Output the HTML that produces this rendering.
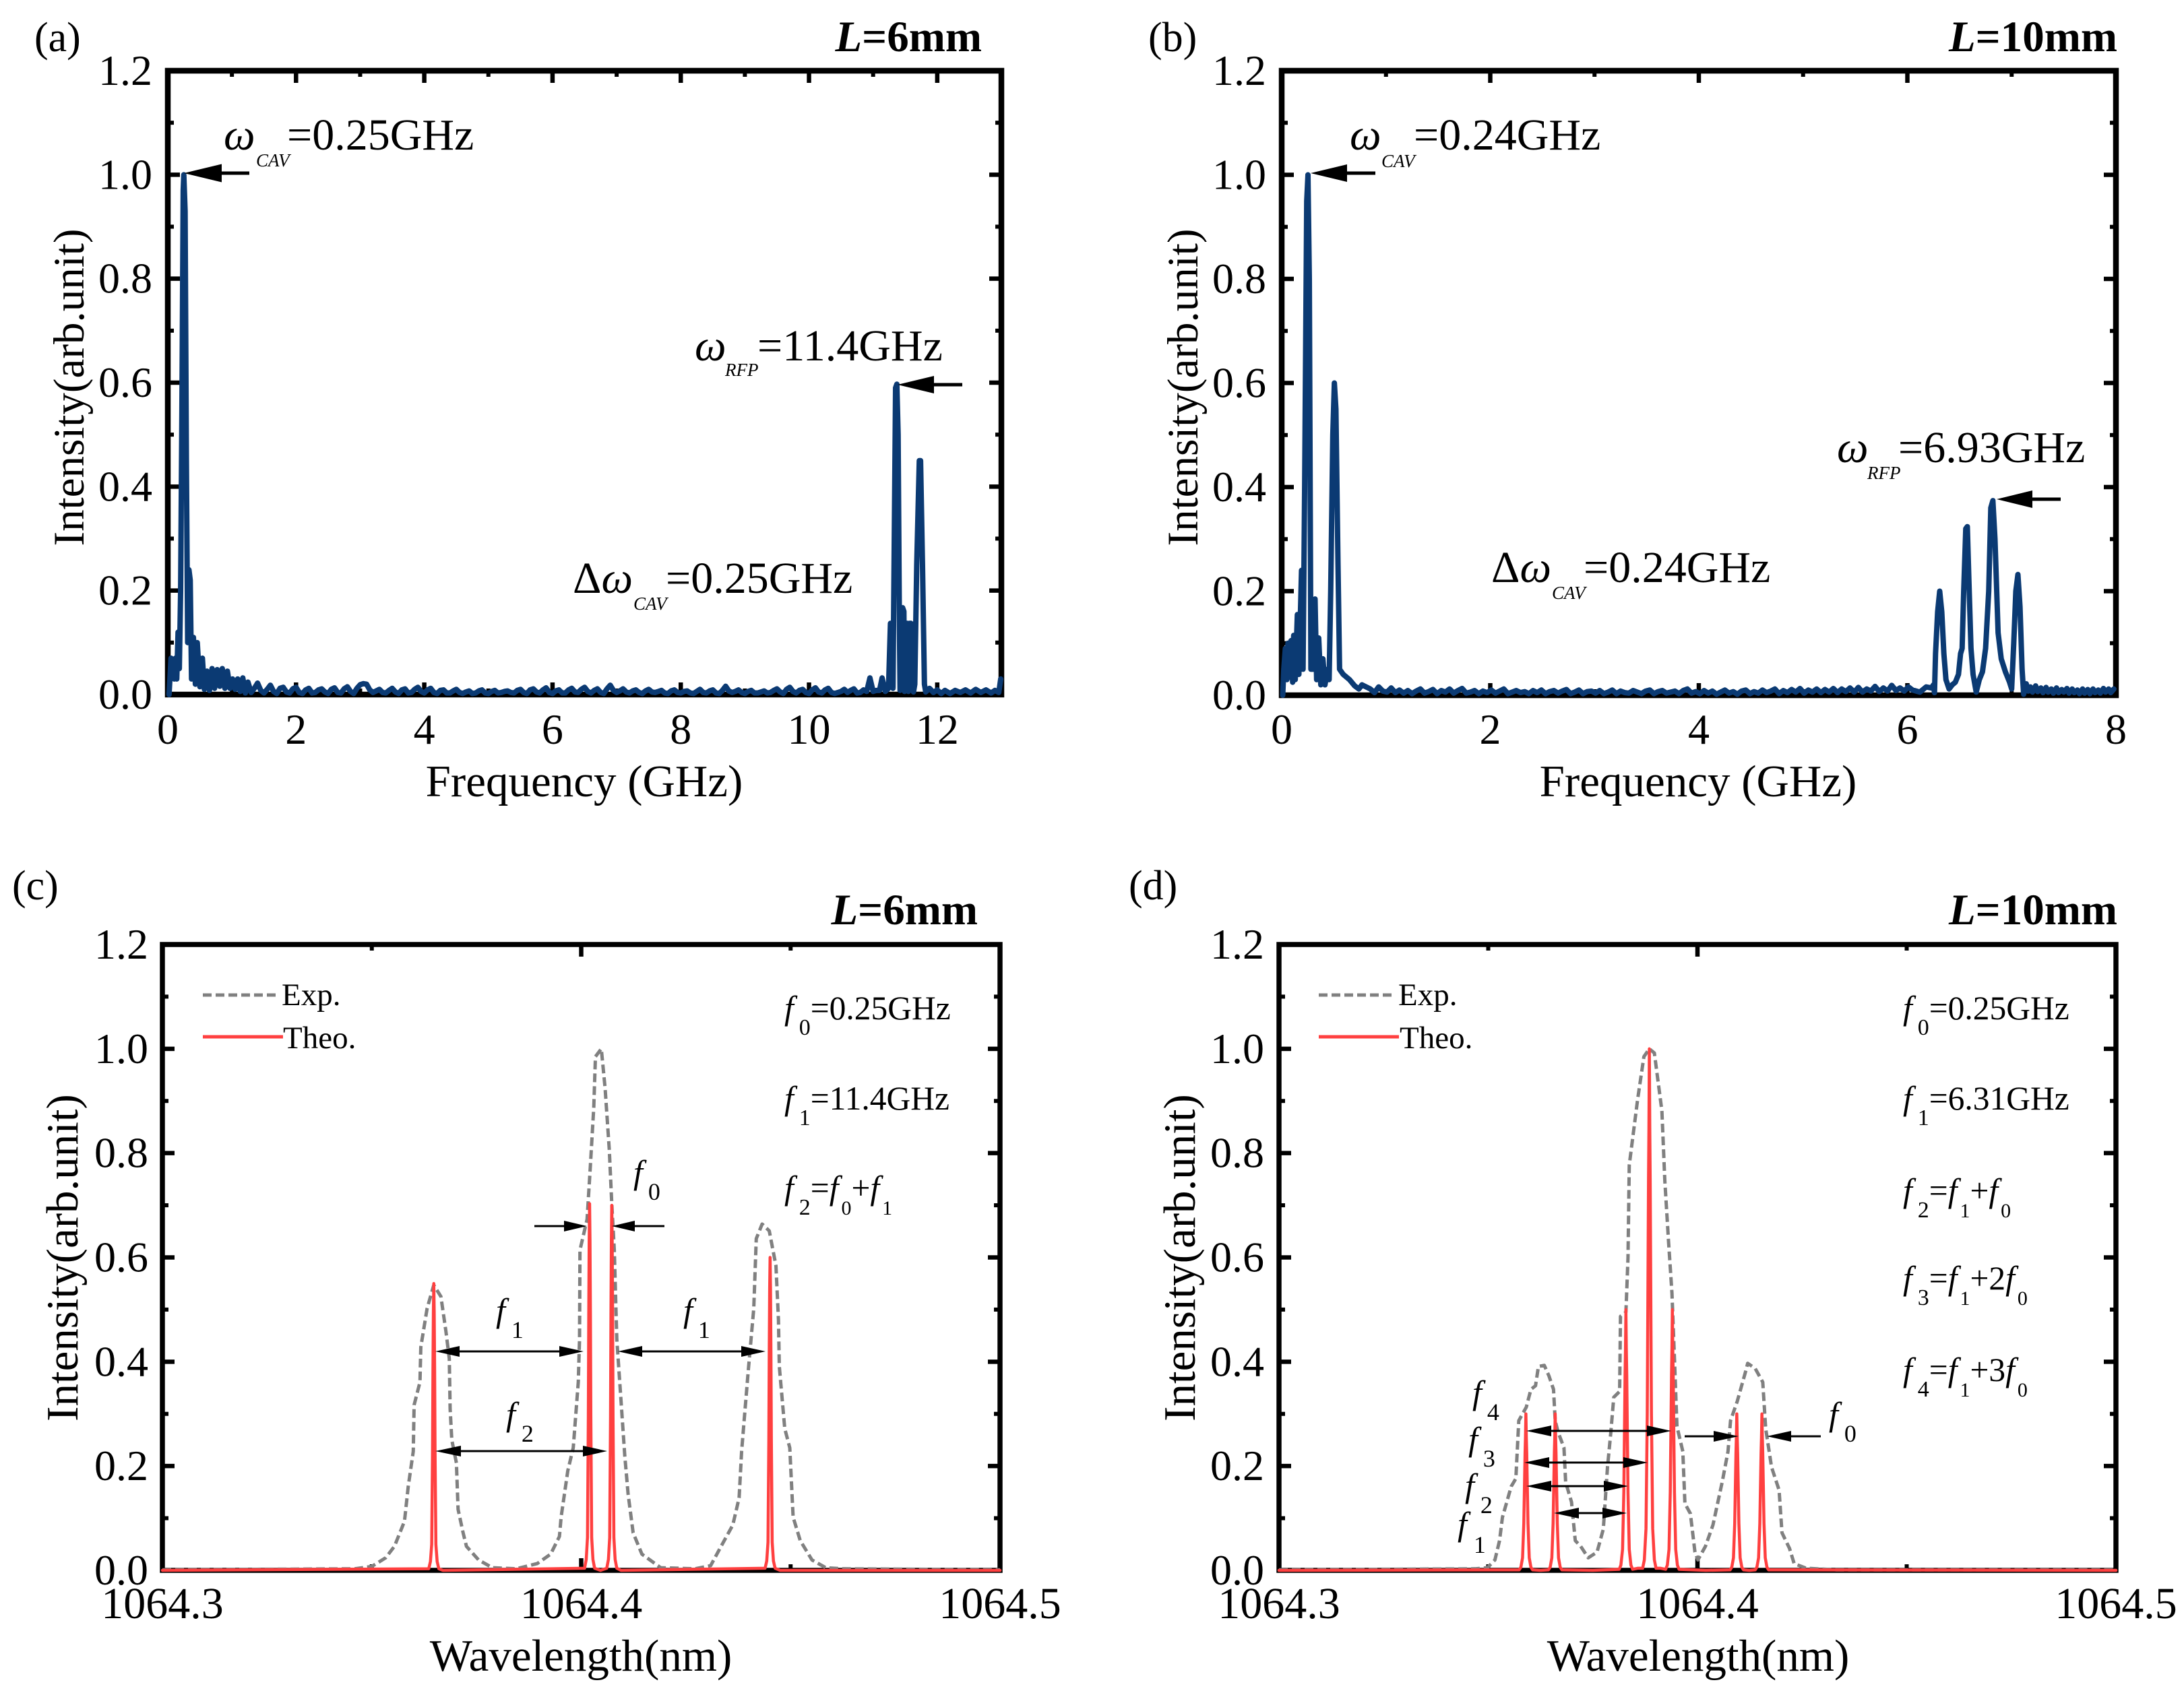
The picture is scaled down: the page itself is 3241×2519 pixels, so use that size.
<!DOCTYPE html>
<html lang="en">
<head>
<meta charset="utf-8">
<title>Frequency and wavelength spectra for L=6mm and L=10mm</title>
<style>
html,body{margin:0;padding:0;background:#fff;}
svg{display:block;font-family:"Liberation Serif","DejaVu Serif",serif;fill:#000;}
.val{font-size:66px;}
.sm{font-size:27px;font-style:italic;}
.pl{font-size:62px;}
.hd{font-size:65px;font-weight:bold;text-anchor:end;}
.hd tspan{font-style:italic;}
.lg{font-size:47px;}
.fl{font-size:49.5px;}
.fa{font-size:50px;}
i,.it{font-style:italic;}
</style>
</head>
<body>
<svg id="figure" xmlns="http://www.w3.org/2000/svg" width="3241" height="2519" viewBox="0 0 3241 2519">
<rect width="3241" height="2519" fill="#fff"/>
<g id="panel-a"></g>
<g id="panel-b"></g>
<g id="panel-c"></g>
<g id="panel-d"></g>

<g>
<text class="pl" x="51" y="76">(a)</text>
<text class="hd" x="1457" y="76"><tspan>L</tspan>=6mm</text>
<text class="val it" x="332" y="222">ω</text>
<text class="sm" x="380" y="247">CAV</text>
<text class="val" x="426" y="222">=0.25GHz</text>
<path d="M273 257L329 243.5V254.5H370V259.5H329V270.5Z"/>
<text class="val it" x="1031" y="535">ω</text>
<text class="sm" x="1076" y="558">RFP</text>
<text class="val" x="1124" y="535">=11.4GHz</text>
<path d="M1332 571L1386 558V568.5H1428V573.5H1386V584Z"/>
<text class="val" x="850" y="880">Δ<tspan class="it">ω</tspan></text>
<text class="sm" x="940" y="905">CAV</text>
<text class="val" x="988" y="880">=0.25GHz</text>
</g>

<g>
<text class="pl" x="1704" y="76">(b)</text>
<text class="hd" x="3142" y="76"><tspan>L</tspan>=10mm</text>
<text class="val it" x="2003" y="222">ω</text>
<text class="sm" x="2050" y="248">CAV</text>
<text class="val" x="2098" y="222">=0.24GHz</text>
<path d="M1945 257L1999 244V254.5H2041V259.5H1999V270Z"/>
<text class="val it" x="2726" y="686">ω</text>
<text class="sm" x="2771" y="711">RFP</text>
<text class="val" x="2817" y="686">=6.93GHz</text>
<path d="M2963 741L3016 728V738.5H3058V743.5H3016V754Z"/>
<text class="val" x="2213" y="864">Δ<tspan class="it">ω</tspan></text>
<text class="sm" x="2303" y="889">CAV</text>
<text class="val" x="2350" y="864">=0.24GHz</text>
</g>

<g>
<text class="pl" x="18" y="1335">(c)</text>
<text class="hd" x="1451" y="1372"><tspan>L</tspan>=6mm</text>
<line x1="301" y1="1477" x2="413" y2="1477" stroke="#808080" stroke-width="5" stroke-dasharray="13 6"/>
<text class="lg" x="418" y="1492">Exp.</text>
<line x1="301" y1="1539" x2="420" y2="1539" stroke="#ff4040" stroke-width="5"/>
<text class="lg" x="420" y="1556">Theo.</text>
<text class="fl" x="1164" y="1513"><tspan class="it">f</tspan><tspan dy="23" dx="8" font-size="34">0</tspan><tspan dy="-23">=0.25GHz</tspan></text>
<text class="fl" x="1164" y="1647"><tspan class="it">f</tspan><tspan dy="23" dx="8" font-size="34">1</tspan><tspan dy="-23">=11.4GHz</tspan></text>
<text class="fl" x="1164" y="1780"><tspan class="it">f</tspan><tspan dy="23" dx="8" font-size="34">2</tspan><tspan dy="-23">=</tspan><tspan class="it">f</tspan><tspan dy="23" dx="4" font-size="30">0</tspan><tspan dy="-23">+</tspan><tspan class="it">f</tspan><tspan dy="23" dx="4" font-size="30">1</tspan></text>
<g>
<path d="M871 1820L837 1812V1818.5H793V1821.5H837V1828Z"/>
<path d="M908 1820L942 1812V1818.5H986V1821.5H942V1828Z"/>
<path d="M646 2006L682 1998V2004.5H830V1998L866 2006L830 2014V2007.5H682V2014Z"/>
<path d="M917 2006L953 1998V2004.5H1100V1998L1136 2006L1100 2014V2007.5H953V2014Z"/>
<path d="M646 2154L684 2146V2152.5H865V2146L901 2154L865 2162V2155.5H684V2162Z"/>
</g>
<text class="fa" x="940" y="1757"><tspan class="it">f</tspan><tspan dy="24" dx="8" font-size="36">0</tspan></text>
<text class="fa" x="736" y="1962"><tspan class="it">f</tspan><tspan dy="24" dx="9" font-size="36">1</tspan></text>
<text class="fa" x="1014" y="1962"><tspan class="it">f</tspan><tspan dy="24" dx="8" font-size="36">1</tspan></text>
<text class="fa" x="751" y="2116"><tspan class="it">f</tspan><tspan dy="24" dx="9" font-size="36">2</tspan></text>
</g>

<g>
<text class="pl" x="1675" y="1335">(d)</text>
<text class="hd" x="3142" y="1372"><tspan>L</tspan>=10mm</text>
<line x1="1957" y1="1477" x2="2070" y2="1477" stroke="#808080" stroke-width="5" stroke-dasharray="13 6"/>
<text class="lg" x="2075" y="1492">Exp.</text>
<line x1="1957" y1="1539" x2="2076" y2="1539" stroke="#ff4040" stroke-width="5"/>
<text class="lg" x="2077" y="1556">Theo.</text>
<text class="fl" x="2824" y="1513"><tspan class="it">f</tspan><tspan dy="23" dx="8" font-size="34">0</tspan><tspan dy="-23">=0.25GHz</tspan></text>
<text class="fl" x="2824" y="1647"><tspan class="it">f</tspan><tspan dy="23" dx="8" font-size="34">1</tspan><tspan dy="-23">=6.31GHz</tspan></text>
<text class="fl" x="2824" y="1784"><tspan class="it">f</tspan><tspan dy="23" dx="8" font-size="34">2</tspan><tspan dy="-23">=</tspan><tspan class="it">f</tspan><tspan dy="23" dx="4" font-size="30">1</tspan><tspan dy="-23">+</tspan><tspan class="it">f</tspan><tspan dy="23" dx="4" font-size="30">0</tspan></text>
<text class="fl" x="2824" y="1914"><tspan class="it">f</tspan><tspan dy="23" dx="8" font-size="34">3</tspan><tspan dy="-23">=</tspan><tspan class="it">f</tspan><tspan dy="23" dx="4" font-size="30">1</tspan><tspan dy="-23">+2</tspan><tspan class="it">f</tspan><tspan dy="23" dx="4" font-size="30">0</tspan></text>
<text class="fl" x="2824" y="2050"><tspan class="it">f</tspan><tspan dy="23" dx="8" font-size="34">4</tspan><tspan dy="-23">=</tspan><tspan class="it">f</tspan><tspan dy="23" dx="4" font-size="30">1</tspan><tspan dy="-23">+3</tspan><tspan class="it">f</tspan><tspan dy="23" dx="4" font-size="30">0</tspan></text>
<g>
<path d="M2265 2124L2302 2116V2122.5H2444V2116L2480 2124L2444 2132V2125.5H2302V2132Z"/>
<path d="M2262 2171L2299 2163V2169.5H2409V2163L2445 2171L2409 2179V2172.5H2299V2179Z"/>
<path d="M2265 2206L2302 2198V2204.5H2380V2198L2416 2206L2380 2214V2207.5H2302V2214Z"/>
<path d="M2306 2246L2343 2238V2244.5H2378V2238L2414 2246L2378 2254V2247.5H2343V2254Z"/>
<path d="M2580 2132L2543 2124V2130.5H2500V2133.5H2543V2140Z"/>
<path d="M2622 2132L2658 2124V2130.5H2702V2133.5H2658V2140Z"/>
</g>
<text class="fa" x="2185" y="2084"><tspan class="it">f</tspan><tspan dy="24" dx="8" font-size="36">4</tspan></text>
<text class="fa" x="2179" y="2153"><tspan class="it">f</tspan><tspan dy="24" dx="8" font-size="36">3</tspan></text>
<text class="fa" x="2174" y="2222"><tspan class="it">f</tspan><tspan dy="24" dx="9" font-size="36">2</tspan></text>
<text class="fa" x="2163" y="2279"><tspan class="it">f</tspan><tspan dy="26" dx="10" font-size="36">1</tspan></text>
<text class="fa" x="2714" y="2116"><tspan class="it">f</tspan><tspan dy="24" dx="9" font-size="36">0</tspan></text>
</g>
</svg>

<script>
const intensityTicks = [0, 0.2, 0.4, 0.6, 0.8, 1.0, 1.2];
const intensityTickLabels = ['0.0', '0.2', '0.4', '0.6', '0.8', '1.0', '1.2'];
const freqTicksA = [0, 2, 4, 6, 8, 10, 12];
const freqTicksB = [0, 2, 4, 6, 8];
const wlTicks = [1064.3, 1064.4, 1064.5];
const wlTickLabels = ['1064.3', '1064.4', '1064.5'];

const freqA = [0.02,0.05,0.08,0.10,0.12,0.14,0.16,0.18,0.20,0.22,0.24,0.25,0.27,0.29,0.31,0.33,0.35,0.37,0.40,0.43,0.46,0.50,0.54,0.57,0.61,0.65,0.69,0.73,0.77,0.81,0.85,0.89,0.93,0.97,1.01,1.05,1.09,1.13,1.17,1.21,1.25,
1.30,1.35,1.40,1.45,1.50,1.55,1.60,1.65,1.70,1.75,
1.80,1.85,1.90,1.95,2.00,2.05,2.10,2.15,2.20,2.25,
2.30,2.35,2.40,2.45,2.50,2.55,2.60,2.65,2.70,2.75,
2.80,2.85,2.90,2.95,3.00,3.05,3.10,3.15,3.20,3.25,
3.30,3.35,3.40,3.45,3.50,3.55,3.60,3.65,3.70,3.75,
3.80,3.85,3.90,3.95,4.00,4.05,4.10,4.15,4.20,4.25,
4.30,4.35,4.40,4.45,4.50,4.55,4.60,4.65,4.70,4.75,
4.80,4.85,4.90,4.95,5.00,5.05,5.10,5.15,5.20,5.25,
5.30,5.35,5.40,5.45,5.50,5.55,5.60,5.65,5.70,5.75,
5.80,5.85,5.90,5.95,6.00,6.05,6.10,6.15,6.20,6.25,
6.30,6.35,6.40,6.45,6.50,6.55,6.60,6.65,6.70,6.75,
6.80,6.85,6.90,6.95,7.00,7.05,7.10,7.15,7.20,7.25,
7.30,7.35,7.40,7.45,7.50,7.55,7.60,7.65,7.70,7.75,
7.80,7.85,7.90,7.95,8.00,8.05,8.10,8.15,8.20,8.25,
8.30,8.35,8.40,8.45,8.50,8.55,8.60,8.65,8.70,8.75,
8.80,8.85,8.90,8.95,9.00,9.05,9.10,9.15,9.20,9.25,
9.30,9.35,9.40,9.45,9.50,9.55,9.60,9.65,9.70,9.75,
9.80,9.85,9.90,9.95,10.00,10.05,10.10,10.15,10.20,10.25,
10.30,10.35,10.40,10.45,10.50,10.55,10.60,10.65,10.70,10.75,
10.80,10.85,10.90,
10.95,11.0,11.05,11.1,11.14,11.19,11.24,11.27,11.29,11.31,11.33,11.35,11.37,11.39,11.41,11.42,11.44,11.46,11.48,11.49,11.51,11.53,11.55,11.57,11.59,11.61,11.63,11.65,11.68,11.72,11.74,11.77,11.80,11.82,11.88,11.94,12.0,12.06,12.12,12.2,12.28,12.36,12.44,12.52,12.6,12.68,12.76,12.84,12.9,12.96,12.99];
const intensityA = [0.00,0.07,0.06,0.03,0.07,0.03,0.12,0.05,0.2,0.55,0.97,1.0,0.93,0.45,0.10,0.24,0.22,0.03,0.11,0.02,0.10,0.015,0.07,0.01,0.045,0.008,0.05,0.012,0.048,0.016,0.05,0.012,0.045,0.012,0.03,0.01,0.03,0.006,0.032,0.003,0.024,
.004,.012,.022,.008,.003,.010,.018,.006,.002,.012,
.014,.005,.003,.011,.014,.004,.002,.009,.012,.003,
.004,.009,.011,.005,.002,.010,.013,.004,.003,.011,
.015,.006,.002,.012,.019,.021,.02,.009,.004,.007,
.010,.004,.003,.008,.012,.005,.002,.009,.011,.003,
.004,.010,.014,.006,.003,.009,.012,.004,.002,.008,
.009,.003,.003,.007,.010,.004,.002,.005,.007,.002,
.003,.007,.009,.003,.002,.006,.008,.003,.004,.006,
.007,.004,.003,.008,.010,.004,.002,.009,.011,.005,
.003,.009,.013,.004,.002,.007,.009,.003,.003,.009,
.012,.005,.004,.010,.014,.006,.003,.008,.011,.004,
.002,.011,.018,.008,.004,.007,.011,.005,.003,.007,
.009,.004,.002,.007,.010,.005,.004,.006,.008,.003,
.002,.007,.009,.004,.003,.006,.007,.003,.002,.006,
.010,.004,.003,.007,.009,.003,.002,.008,.016,.007,
.004,.006,.009,.004,.002,.006,.008,.003,.003,.005,
.007,.003,.004,.008,.011,.005,.002,.010,.014,.006,
.003,.008,.010,.004,.002,.009,.013,.005,.003,.009,
.012,.004,.002,.004,.006,.010,.004,.008,.011,.003,
.004,.009,.006,
0.032,0.006,0.008,0.008,0.032,0.006,0.012,0.137,0.13,0.012,0.3,0.59,0.597,0.5,0.13,0.008,0.01,0.167,0.16,0.006,0.137,0.137,0.006,0.137,0.137,0.11,0.005,0.02,0.25,0.45,0.45,0.25,0.02,0.005,0.012,0.004,0.009,0.002,0.008,0.002,0.008,0.004,0.009,0.003,0.01,0.004,0.009,0.003,0.008,0.004,0.03];

const freqB = [0.01,0.02,0.035,0.05,0.06,0.075,0.09,0.105,0.115,0.13,0.15,0.165,0.19,0.205,0.22,0.24,0.252,0.265,0.275,0.28,0.30,0.32,0.335,0.355,0.375,0.395,0.415,0.44,0.455,0.47,0.49,0.505,0.52,0.54,0.555,0.59,0.65,0.7,0.74,0.77,
0.85,0.89,0.93,0.97,1.01,1.05,1.09,1.13,1.17,1.21,
1.25,1.29,1.33,1.37,1.41,1.45,1.49,1.53,1.57,1.61,
1.65,1.69,1.73,1.77,1.81,1.85,1.89,1.93,1.97,2.01,
2.05,2.09,2.13,2.17,2.21,2.25,2.29,2.33,2.37,2.41,
2.45,2.49,2.53,2.57,2.61,2.65,2.69,2.73,2.77,2.81,
2.85,2.89,2.93,2.97,3.01,3.05,3.09,3.13,3.17,3.21,
3.25,3.29,3.33,3.37,3.41,3.45,3.49,3.53,3.57,3.61,
3.65,3.69,3.73,3.77,3.81,3.85,3.89,3.93,3.97,4.01,
4.05,4.09,4.13,4.17,4.21,4.25,4.29,4.33,4.37,4.41,
4.45,4.49,4.53,4.57,4.61,4.65,4.69,4.73,4.77,4.81,
4.85,4.89,4.93,4.97,5.01,5.05,5.09,5.13,5.17,5.21,
5.25,5.29,5.33,5.37,5.41,5.45,5.49,5.53,5.57,5.61,
5.65,5.69,5.73,5.77,5.81,5.85,5.89,5.93,5.97,6.01,
6.05,
6.12,6.18,6.23,6.25,6.26,6.27,6.29,6.31,6.33,6.35,6.37,6.40,6.43,6.46,6.49,6.51,6.525,6.54,6.56,6.575,6.59,6.61,6.63,6.66,6.69,6.72,6.75,6.78,6.80,6.82,6.84,6.87,6.90,6.94,6.98,7.00,7.02,7.04,7.06,7.08,7.10,7.115,7.14,7.16,7.18,7.20,7.23,7.25,7.28,7.30,7.33,7.35,7.38,7.40,7.43,7.45,7.48,7.50,7.53,7.55,7.58,7.60,7.63,7.65,7.68,7.70,7.73,7.75,7.78,7.80,7.83,7.85,7.88,7.90,7.93,7.95,7.98];
const intensityB = [0.0,0.05,0.09,0.03,0.10,0.035,0.105,0.025,0.115,0.03,0.155,0.04,0.24,0.05,0.4,0.95,1.0,0.8,0.3,0.05,0.05,0.185,0.03,0.11,0.02,0.07,0.02,0.05,0.03,0.2,0.5,0.6,0.55,0.25,0.05,0.04,0.03,0.018,0.012,0.02,
.012,.005,.016,.008,.006,.014,.005,.010,.004,.009,
.003,.008,.012,.004,.007,.011,.003,.009,.006,.012,
.004,.009,.013,.004,.006,.009,.003,.008,.005,.010,
.004,.008,.012,.003,.006,.009,.005,.007,.003,.009,
.005,.010,.003,.007,.009,.004,.008,.011,.003,.006,
.010,.003,.007,.008,.004,.009,.003,.006,.010,.003,
.008,.005,.004,.009,.006,.003,.008,.010,.003,.007,
.009,.004,.006,.008,.003,.009,.012,.004,.007,.003,
.009,.004,.008,.002,.006,.010,.004,.007,.002,.008,
.010,.003,.007,.004,.010,.005,.008,.012,.003,.009,
.005,.011,.006,.013,.004,.010,.006,.012,.005,.011,
.006,.013,.005,.012,.007,.014,.006,.015,.006,.012,
.008,.017,.007,.014,.008,.019,.009,.014,.008,.016,
.010,
0.006,0.016,0.014,0.02,0.005,0.08,0.16,0.2,0.16,0.08,0.03,0.012,0.02,0.025,0.04,0.08,0.09,0.2,0.32,0.324,0.22,0.09,0.04,0.006,0.03,0.045,0.09,0.2,0.36,0.374,0.3,0.12,0.07,0.045,0.025,0.012,0.1,0.2,0.232,0.17,0.05,0.002,0.022,0.008,0.016,0.006,0.018,0.007,0.014,0.005,0.015,0.006,0.012,0.004,0.014,0.005,0.011,0.006,0.013,0.004,0.012,0.005,0.01,0.003,0.012,0.004,0.011,0.003,0.012,0.005,0.01,0.004,0.013,0.006,0.012,0.005,0.012];

const expWlC = [1064.3000,1064.3459,1064.3500,1064.3533,1064.3554,1064.3578,1064.3587,1064.3599,1064.3601,1064.3615,1064.3617,1064.3632,1064.3648,1064.3665,1064.3677,1064.3685,1064.3687,1064.3691,1064.3702,1064.3706,1064.3718,1064.3726,1064.3755,1064.3788,1064.3845,1064.3895,1064.3927,1064.3948,1064.3952,1064.3968,1064.3981,1064.3993,1064.3996,1064.3997,1064.4014,1064.4022,1064.4030,1064.4034,1064.4048,1064.4057,1064.4067,1064.4073,1064.4079,1064.4085,1064.4092,1064.4104,1064.4112,1064.4124,1064.4145,1064.4190,1064.4272,1064.4309,1064.4334,1064.4362,1064.4377,1064.4383,1064.4389,1064.4399,1064.4412,1064.4418,1064.4432,1064.4449,1064.4465,1064.4471,1064.4473,1064.4486,1064.4498,1064.4506,1064.4523,1064.4551,1064.4584,1064.4623,1064.5000];
const expIntC = [0.001,0.003,0.0075,0.024,0.046,0.094,0.161,0.228,0.317,0.361,0.428,0.502,0.547,0.525,0.458,0.406,0.31,0.25,0.206,0.117,0.072,0.046,0.02,0.005,0.003,0.013,0.031,0.065,0.102,0.191,0.235,0.361,0.443,0.614,0.673,0.777,0.888,0.985,1.0,0.925,0.807,0.703,0.614,0.443,0.361,0.22,0.146,0.072,0.031,0.005,0.003,0.009,0.046,0.087,0.139,0.228,0.287,0.384,0.502,0.636,0.664,0.651,0.584,0.48,0.391,0.272,0.235,0.102,0.057,0.02,0.005,0.003,0.001];

const theoWlC = [1064.3000,1064.3636,1064.3640,1064.3643,1064.3645,1064.3646,1064.3647,1064.3648,1064.3649,1064.3650,1064.3651,1064.3653,1064.3656,1064.3660,1064.3670,1064.4008,1064.4012,1064.4015,1064.4017,1064.4018,1064.4019,1064.4020,1064.4021,1064.4022,1064.4023,1064.4025,1064.4028,1064.4032,1064.4046,1064.4061,1064.4065,1064.4068,1064.4070,1064.4071,1064.4072,1064.4073,1064.4074,1064.4075,1064.4076,1064.4078,1064.4081,1064.4085,1064.4095,1064.4439,1064.4443,1064.4446,1064.4448,1064.4449,1064.4450,1064.4451,1064.4452,1064.4453,1064.4454,1064.4456,1064.4459,1064.4463,1064.4475,1064.5000];
const theoIntC = [0,0.003,0.017,0.05,0.23,0.385,0.495,0.55,0.495,0.385,0.23,0.05,0.017,0.003,0,0.004,0.021,0.063,0.295,0.49,0.63,0.703,0.63,0.49,0.295,0.063,0.021,0.004,0,0.004,0.021,0.063,0.294,0.49,0.63,0.70,0.63,0.49,0.294,0.063,0.021,0.004,0,0.004,0.018,0.054,0.252,0.42,0.54,0.60,0.54,0.42,0.252,0.054,0.018,0.004,0,0];

const expWlD = [1064.3000,1064.3469,1064.3498,1064.3516,1064.3527,1064.3534,1064.3555,1064.3566,1064.3573,1064.3591,1064.3602,1064.3613,1064.3620,1064.3634,1064.3645,1064.3656,1064.3660,1064.3667,1064.3681,1064.3685,1064.3699,1064.3708,1064.3721,1064.3739,1064.3760,1064.3775,1064.3785,1064.3793,1064.3800,1064.3814,1064.3816,1064.3829,1064.3834,1064.3837,1064.3857,1064.3872,1064.3885,1064.3897,1064.3915,1064.3922,1064.3931,1064.3939,1064.3944,1064.3951,1064.3965,1064.3970,1064.3983,1064.3994,1064.4001,1064.4019,1064.4037,1064.4059,1064.4073,1064.4079,1064.4095,1064.4116,1064.4120,1064.4138,1064.4156,1064.4163,1064.4177,1064.4195,1064.4202,1064.4220,1064.4231,1064.4260,1064.4332,1064.4452,1064.5000];
const expIntD = [0.001,0.003,0.005,0.02,0.057,0.102,0.161,0.176,0.287,0.313,0.347,0.354,0.391,0.393,0.373,0.347,0.287,0.265,0.235,0.169,0.131,0.057,0.046,0.024,0.035,0.079,0.198,0.265,0.332,0.343,0.487,0.495,0.599,0.777,0.903,0.985,1.0,0.992,0.881,0.747,0.629,0.532,0.428,0.276,0.228,0.128,0.109,0.035,0.02,0.046,0.087,0.169,0.228,0.287,0.324,0.384,0.397,0.387,0.361,0.272,0.198,0.154,0.072,0.042,0.013,0.004,0.001,0.001,0.001];

const theoWlD = [1064.3000,1064.3574,1064.3578,1064.3582,1064.3585,1064.3587,1064.3588,1064.3589,1064.3590,1064.3591,1064.3592,1064.3593,1064.3595,1064.3598,1064.3602,1064.3606,1064.3625,1064.3644,1064.3648,1064.3652,1064.3655,1064.3657,1064.3658,1064.3659,1064.3660,1064.3661,1064.3662,1064.3663,1064.3665,1064.3668,1064.3672,1064.3676,1064.3750,1064.3813,1064.3817,1064.3821,1064.3824,1064.3826,1064.3827,1064.3828,1064.3829,1064.3830,1064.3831,1064.3832,1064.3834,1064.3837,1064.3841,1064.3845,1064.3857,1064.3869,1064.3873,1064.3877,1064.3880,1064.3882,1064.3883,1064.3884,1064.3885,1064.3886,1064.3887,1064.3888,1064.3890,1064.3893,1064.3897,1064.3901,1064.3912,1064.3924,1064.3928,1064.3932,1064.3935,1064.3937,1064.3938,1064.3939,1064.3940,1064.3941,1064.3942,1064.3943,1064.3945,1064.3948,1064.3952,1064.3956,1064.4020,1064.4078,1064.4082,1064.4086,1064.4089,1064.4091,1064.4092,1064.4093,1064.4094,1064.4095,1064.4096,1064.4097,1064.4099,1064.4102,1064.4106,1064.4110,1064.4124,1064.4138,1064.4142,1064.4146,1064.4149,1064.4151,1064.4152,1064.4153,1064.4154,1064.4155,1064.4156,1064.4157,1064.4159,1064.4162,1064.4166,1064.4170,1064.5000];
const theoIntD = [0,
0.001,0.006,0.024,0.09,0.18,0.225,0.255,0.30,0.255,0.225,0.18,0.09,0.024,0.006,0.001,0,
0.001,0.006,0.024,0.09,0.18,0.225,0.255,0.30,0.255,0.225,0.18,0.09,0.024,0.006,0.001,0,
0.002,0.01,0.04,0.15,0.3,0.375,0.425,0.50,0.425,0.375,0.3,0.15,0.04,0.01,0.002,0.004,
0.004,0.02,0.08,0.3,0.6,0.75,0.85,1.0,0.85,0.75,0.6,0.3,0.08,0.02,0.004,0.004,
0.002,0.01,0.04,0.15,0.3,0.375,0.425,0.50,0.425,0.375,0.3,0.15,0.04,0.01,0.002,0,
0.001,0.006,0.024,0.09,0.18,0.225,0.255,0.30,0.255,0.225,0.18,0.09,0.024,0.006,0.001,0,
0.001,0.006,0.024,0.09,0.18,0.225,0.255,0.30,0.255,0.225,0.18,0.09,0.024,0.006,0.001,0];

const SVGNS = 'http://www.w3.org/2000/svg';
function make(tag, attrs, parent) {
  const e = document.createElementNS(SVGNS, tag);
  for (const k in attrs) e.setAttribute(k, attrs[k]);
  parent.appendChild(e);
  return e;
}

function drawPanel(cfg) {
  const g = document.getElementById(cfg.id);
  const sx = v => cfg.x0 + (v - cfg.xMin) / (cfg.xMax - cfg.xMin) * (cfg.x1 - cfg.x0);
  const sy = v => cfg.yBottom - v / 1.2 * (cfg.yBottom - cfg.yTop);
  const minorX = [];
  for (let i = 0; i < cfg.xTicks.length - 1; i++) minorX.push((cfg.xTicks[i] + cfg.xTicks[i + 1]) / 2);
  const minorY = [];
  for (let i = 0; i < intensityTicks.length - 1; i++) minorY.push((intensityTicks[i] + intensityTicks[i + 1]) / 2);

  const frame = make('rect', {x: cfg.x0, y: cfg.yTop, width: cfg.x1 - cfg.x0, height: cfg.yBottom - cfg.yTop, fill: 'none', stroke: '#000', 'stroke-width': cfg.frameWidth, 'stroke-linejoin': 'miter'}, g);
  
  

  cfg.xTicks.forEach(v => {
    [[cfg.yBottom, -1], [cfg.yTop, 1]].forEach(pair => {
      const t = make('line', {x1: sx(v), x2: sx(v), y1: pair[0], y2: pair[0] + pair[1] * 18, stroke: '#000', 'stroke-width': 6.5}, g);
      
      
    });
  });
  minorX.forEach(v => {
    [[cfg.yBottom, -1], [cfg.yTop, 1]].forEach(pair => {
      const t = make('line', {x1: sx(v), x2: sx(v), y1: pair[0], y2: pair[0] + pair[1] * 9, stroke: '#000', 'stroke-width': 6}, g);
      
      
    });
  });
  intensityTicks.forEach(v => {
    [[cfg.x0, 1], [cfg.x1, -1]].forEach(pair => {
      const t = make('line', {x1: pair[0], x2: pair[0] + pair[1] * 18, y1: sy(v), y2: sy(v), stroke: '#000', 'stroke-width': 6.5}, g);
      
      
    });
  });
  minorY.forEach(v => {
    [[cfg.x0, 1], [cfg.x1, -1]].forEach(pair => {
      const t = make('line', {x1: pair[0], x2: pair[0] + pair[1] * 9, y1: sy(v), y2: sy(v), stroke: '#000', 'stroke-width': 6}, g);
      
      
    });
  });

  intensityTicks.forEach((v, i) => {
    const t = make('text', {x: cfg.yLabelRight, y: sy(v) + 21, 'text-anchor': 'end', 'font-size': cfg.yTickFont}, g);
    t.textContent = intensityTickLabels[i];
    
    
  });
  cfg.xTicks.forEach((v, i) => {
    const t = make('text', {x: sx(v), y: cfg.xLabelY, 'text-anchor': 'middle', 'font-size': cfg.tickFont}, g);
    t.textContent = cfg.xTickLabels[i];
    
    
  });

  const xt = make('text', {x: cfg.xTitleX, y: cfg.xTitleY, 'text-anchor': 'middle', 'font-size': cfg.titleFont}, g);
  xt.textContent = cfg.xTitle;
  
  

  const yt = make('text', {transform: 'translate(' + cfg.yTitleX + ' ' + cfg.yTitleCy + ') rotate(-90)', 'text-anchor': 'middle', 'font-size': cfg.yTitleFont}, g);
  yt.textContent = 'Intensity(arb.unit)';
  
  

  cfg.series.forEach(s => {
    let d = '';
    s.xs.forEach((v, i) => {
      d += (i ? 'L' : 'M') + sx(v).toFixed(2) + ' ' + sy(s.ys[i]).toFixed(2);
    });
    const attrs = {d: d, fill: 'none', stroke: s.color, 'stroke-width': s.width, 'stroke-linejoin': 'round', 'stroke-linecap': s.dash ? 'butt' : 'round'};
    if (s.dash) attrs['stroke-dasharray'] = s.dash;
    const p = make('path', attrs, g);
    
    
  });
}

drawPanel({id: 'panel-a', x0: 249, x1: 1486, yTop: 105, yBottom: 1031, xMin: 0, xMax: 13, xTicks: freqTicksA, xTickLabels: freqTicksA.map(String), yLabelRight: 226, xLabelY: 1104, tickFont: 64, yTickFont: 64, titleFont: 67, xTitle: 'Frequency (GHz)', xTitleX: 867, xTitleY: 1182, yTitleX: 124, yTitleCy: 575, yTitleFont: 65, frameWidth: 8.5,
  series: [{xs: freqA, ys: intensityA, color: '#0b3a73', width: 8, name: 'spectrum-line-a'}]});
drawPanel({id: 'panel-b', x0: 1902, x1: 3140, yTop: 105, yBottom: 1032, xMin: 0, xMax: 8, xTicks: freqTicksB, xTickLabels: freqTicksB.map(String), yLabelRight: 1879, xLabelY: 1104, tickFont: 64, yTickFont: 64, titleFont: 67, xTitle: 'Frequency (GHz)', xTitleX: 2520, xTitleY: 1182, yTitleX: 1777, yTitleCy: 575, yTitleFont: 65, frameWidth: 8.5,
  series: [{xs: freqB, ys: intensityB, color: '#0b3a73', width: 8, name: 'spectrum-line-b'}]});
drawPanel({id: 'panel-c', x0: 241, x1: 1484, yTop: 1402, yBottom: 2331, xMin: 1064.3, xMax: 1064.5, xTicks: wlTicks, xTickLabels: wlTickLabels, yLabelRight: 220, xLabelY: 2402, tickFont: 66, yTickFont: 64, titleFont: 67, xTitle: 'Wavelength(nm)', xTitleX: 862, xTitleY: 2480, yTitleX: 115, yTitleCy: 1867, yTitleFont: 67, frameWidth: 7.5,
  series: [{xs: expWlC, ys: expIntC, color: '#808080', width: 5, dash: '13 6', name: 'experiment-line-c'}, {xs: theoWlC, ys: theoIntC, color: '#ff4040', width: 4.5, name: 'theory-line-c'}]});
drawPanel({id: 'panel-d', x0: 1898, x1: 3140, yTop: 1402, yBottom: 2331, xMin: 1064.3, xMax: 1064.5, xTicks: wlTicks, xTickLabels: wlTickLabels, yLabelRight: 1876, xLabelY: 2402, tickFont: 66, yTickFont: 64, titleFont: 67, xTitle: 'Wavelength(nm)', xTitleX: 2520, xTitleY: 2480, yTitleX: 1773, yTitleCy: 1867, yTitleFont: 67, frameWidth: 7.5,
  series: [{xs: expWlD, ys: expIntD, color: '#808080', width: 5, dash: '13 6', name: 'experiment-line-d'}, {xs: theoWlD, ys: theoIntD, color: '#ff4040', width: 4.5, name: 'theory-line-d'}]});
</script>
</body>
</html>
